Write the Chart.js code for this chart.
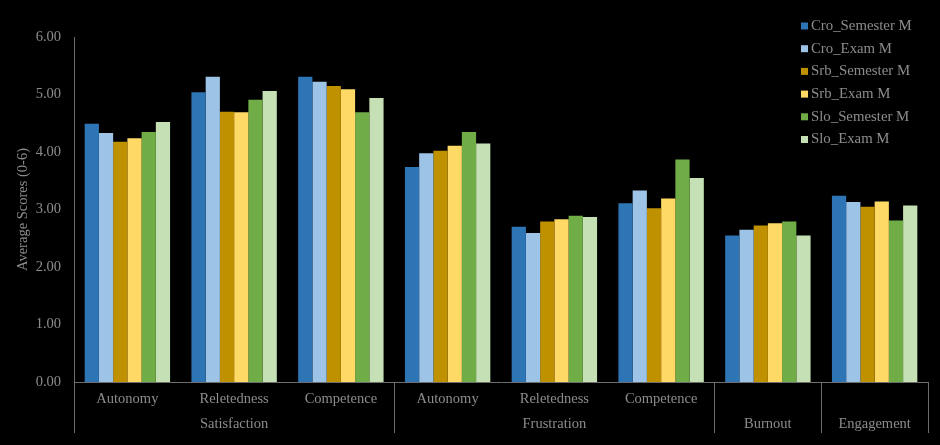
<!DOCTYPE html>
<html>
<head>
<meta charset="utf-8">
<script src="https://cdn.jsdelivr.net/npm/chart.js@4/dist/chart.umd.min.js"></script>
<style>
  html, body { margin: 0; padding: 0; background: #000; }
  #wrap { width: 940px; height: 445px; }
</style>
</head>
<body>
<div id="wrap"><canvas id="chart" width="940" height="445"></canvas></div>
<script>
// categories: first label row, second (group) row, and group of each category
const subLabels = ['Autonomy', 'Reletedness', 'Competence', 'Autonomy', 'Reletedness', 'Competence', '', ''];
const groupLabels = ['', 'Satisfaction', '', '', 'Frustration', '', 'Burnout', 'Engagement'];
const groupOf = ['Satisfaction', 'Satisfaction', 'Satisfaction', 'Frustration', 'Frustration', 'Frustration', 'Burnout', 'Engagement'];

const seriesNames = ['Cro_Semester M', 'Cro_Exam M', 'Srb_Semester M', 'Srb_Exam M', 'Slo_Semester M', 'Slo_Exam M'];
const croSemester = [4.49, 5.04, 5.31, 3.74, 2.70, 3.11, 2.55, 3.24];
const croExam     = [4.33, 5.31, 5.22, 3.98, 2.59, 3.33, 2.65, 3.13];
const srbSemester = [4.18, 4.70, 5.15, 4.02, 2.79, 3.02, 2.72, 3.05];
const srbExam     = [4.24, 4.69, 5.09, 4.11, 2.83, 3.19, 2.76, 3.14];
const sloSemester = [4.35, 4.91, 4.69, 4.35, 2.89, 3.87, 2.79, 2.81];
const sloExam     = [4.52, 5.06, 4.94, 4.15, 2.87, 3.55, 2.55, 3.07];

const colors = ['#2E75B6', '#9DC3E6', '#BF9000', '#FFD966', '#70AD47', '#C5E0B4'];
const textColor = '#8c8c8c';
const lineColor = '#6e6e6e';
const serif = 'Liberation Serif, Times New Roman, serif';

const values = [croSemester, croExam, srbSemester, srbExam, sloSemester, sloExam];

// legend drawn inside the plot, top right
const cornerLegend = {
    id: 'cornerLegend',
    afterDraw(chart) {
        const ctx = chart.ctx;
        const x = chart.chartArea.right - 127;
        const y = 26;
        ctx.save();
        ctx.font = '14.8px ' + serif;
        ctx.textBaseline = 'middle';
        chart.data.datasets.forEach((ds, i) => {
            const cy = y + i * 22.7;
            ctx.fillStyle = ds.backgroundColor;
            ctx.fillRect(x, cy - 3.5, 7, 7);
            ctx.fillStyle = textColor;
            ctx.fillText(ds.label, x + 10, cy);
        });
        ctx.restore();
    }
};

const isBoundary = (i) => i === undefined || i === 0 || groupOf[i] !== groupOf[i - 1];

new Chart(document.getElementById('chart'), {
    type: 'bar',
    data: {
        labels: subLabels.map((s, i) => [s, groupLabels[i]]),
        datasets: seriesNames.map((name, i) => ({
            label: name,
            data: values[i],
            backgroundColor: colors[i],
            borderWidth: 0,
            barPercentage: 1,
            categoryPercentage: 0.8
        }))
    },
    options: {
        responsive: false,
        animation: false,
        layout: { padding: { top: 37, right: 12, left: 0, bottom: 0 } },
        plugins: {
            legend: { display: false },
            tooltip: { enabled: false }
        },
        scales: {
            x: {
                grid: {
                    display: true,
                    drawOnChartArea: false,
                    drawTicks: true,
                    tickLength: 51,
                    lineWidth: 1,
                    color: (c) => isBoundary(c.index) ? lineColor : 'rgba(0,0,0,0)'
                },
                border: { display: true, color: lineColor, width: 1 },
                ticks: {
                    autoSkip: false,
                    maxRotation: 0,
                    padding: -46.5,
                    color: textColor,
                    font: { family: serif, size: 14.5, lineHeight: 1.72 }
                },
                afterFit: (scale) => { scale.height = 63; }
            },
            y: {
                min: 0,
                max: 6,
                grid: { display: false, drawTicks: false },
                border: { display: true, color: lineColor, width: 1 },
                ticks: {
                    stepSize: 1,
                    padding: 13,
                    color: textColor,
                    font: { family: serif, size: 14.5 },
                    callback: (v) => v.toFixed(2)
                },
                title: {
                    display: true,
                    text: 'Average Scores (0-6)',
                    color: textColor,
                    padding: { top: 14, bottom: 0 },
                    font: { family: serif, size: 14.5 }
                },
                afterFit: (scale) => { scale.width = 74; }
            }
        }
    },
    plugins: [cornerLegend]
});
</script>
</body>
</html>
